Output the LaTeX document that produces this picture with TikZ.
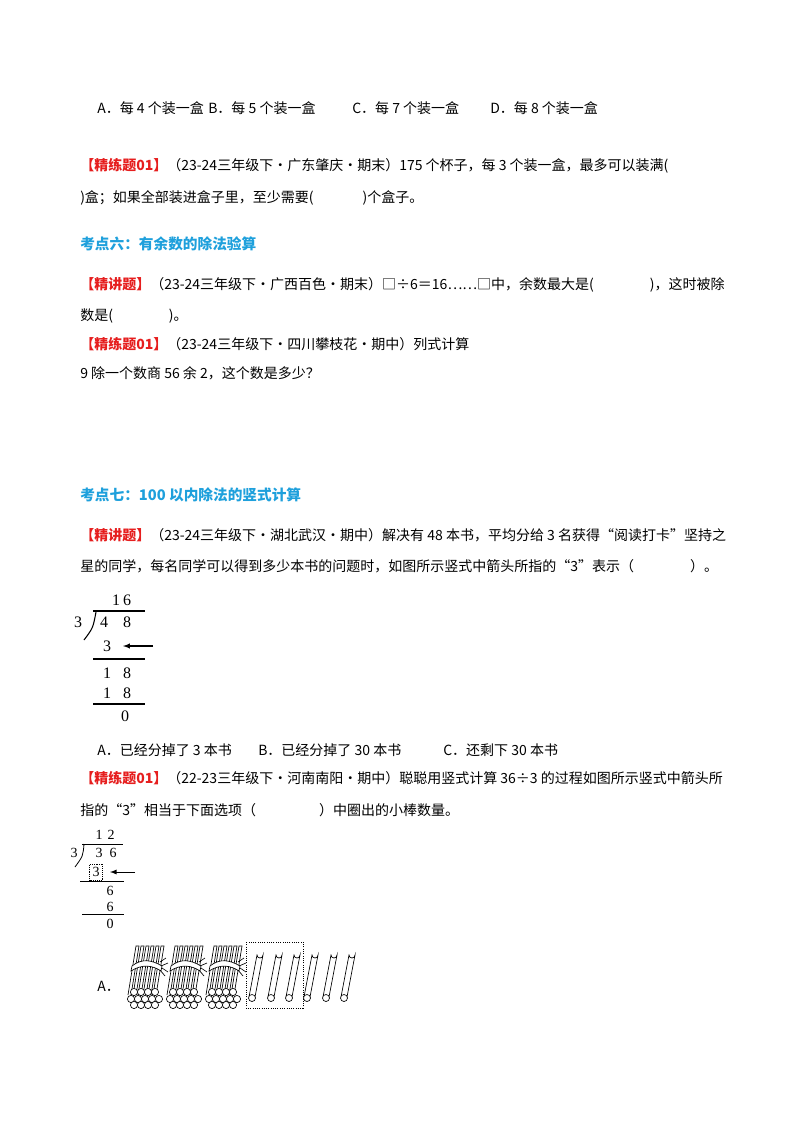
\documentclass[tikz,border=0pt]{standalone}
\usepackage{fontspec}
\setmainfont{Liberation Serif}
\newfontfamily\cjk{Noto Sans CJK SC}
\definecolor{hred}{RGB}{230,30,30}
\definecolor{hblue}{RGB}{30,160,220}
\begin{document}
\begin{tikzpicture}[x=0.75pt,y=-0.75pt,
  txt/.style={anchor=west,inner sep=0,font=\cjk\fontsize{10.5}{12}\selectfont},
  hd/.style={anchor=west,inner sep=0,text=hblue,font=\cjk\bfseries\fontsize{11}{12}\selectfont},
  dg/.style={inner sep=0,font=\fontsize{12}{13}\selectfont},
  dgs/.style={inner sep=0,font=\fontsize{10.5}{12}\selectfont},
  rl/.style={line width=0.8pt},
  stick/.style={line width=0.5pt}]
\useasboundingbox (0,0) rectangle (800,1132);
\fill[white] (0,0) rectangle (800,1132);
\newcommand{\R}[1]{\textcolor{hred}{\bfseries #1}}
\node[txt] (a1) at (97,108) {A．每 4 个装一盒};
\node[txt] (a2) at (208,108) {B．每 5 个装一盒};
\node[txt] (a3) at (352,108) {C．每 7 个装一盒};
\node[txt] (a4) at (490,108) {D．每 8 个装一盒};
\node[txt] (l1) at (80,166) {\R{【精练题01】}（23-24三年级下•广东肇庆•期末）175 个杯子，每 3 个装一盒，最多可以装满(};
\node[txt] (l2) at (80,198) {)盒；如果全部装进盒子里，至少需要(\hspace{3.5em})个盒子。};
\node[hd] (h6) at (80,244) {考点六：有余数的除法验算};
\node[txt] (l3) at (80,285) {\R{【精讲题】}（23-24三年级下•广西百色•期末）□÷6＝16……□中，余数最大是(\hspace{4em})，这时被除};
\node[txt] (l4) at (80,316) {数是(\hspace{4em})。};
\node[txt] (l5) at (80,344) {\R{【精练题01】}（23-24三年级下•四川攀枝花•期中）列式计算};
\node[txt] (l6) at (80,373) {9 除一个数商 56 余 2，这个数是多少？};
\node[hd] (h7) at (80,495) {考点七：100 以内除法的竖式计算};
\node[txt] (l7) at (80,535) {\R{【精讲题】}（23-24三年级下•湖北武汉•期中）解决有 48 本书，平均分给 3 名获得“阅读打卡”坚持之};
\node[txt] (l8) at (80,566) {星的同学，每名同学可以得到多少本书的问题时，如图所示竖式中箭头所指的“3”表示（\hspace{4em}）。};
% division 1
\node[dg] (q1) at (116,600) {1};
\node[dg] (q2) at (127,600) {6};
\draw[rl] (93,611) -- (145,611);
\node[dg] (d1) at (78,622) {3};
\node[dg] (n1) at (104,622) {4};
\node[dg] (n2) at (127,622) {8};
\draw[rl] (96,612) .. controls (93,628) .. (84,640);
\node[dg] (s1) at (107,646) {3};
\coordinate (ar1) at (153,646);
\coordinate (ah1) at (123,646);
\draw[rl,-latex] (ar1) -- (ah1);
\draw[rl] (93,659) -- (145,659);
\node[dg] (r1) at (107,673) {1};
\node[dg] (r2) at (127,673) {8};
\node[dg] (r3) at (107,693) {1};
\node[dg] (r4) at (127,693) {8};
\draw[rl] (93,704) -- (145,704);
\node[dg] (r5) at (125,716) {0};
\node[txt] (b1) at (97,750) {A．已经分掉了 3 本书};
\node[txt] (b2) at (258,750) {B．已经分掉了 30 本书};
\node[txt] (b3) at (443,750) {C．还剩下 30 本书};
\node[txt] (l9) at (80,778) {\R{【精练题01】}（22-23三年级下•河南南阳•期中）聪聪用竖式计算 36÷3 的过程如图所示竖式中箭头所};
\node[txt] (l10) at (80,810) {指的“3”相当于下面选项（\hspace{4.5em}）中圈出的小棒数量。};
% division 2
\node[dgs] (p1) at (99,835) {1};
\node[dgs] (p2) at (111,835) {2};
\draw[line width=0.6pt] (82,844) -- (123,844);
\node[dgs] (e1) at (74,853) {3};
\node[dgs] (m1) at (99,853) {3};
\node[dgs] (m2) at (113,853) {6};
\draw[line width=0.6pt] (84,844) .. controls (83,856) .. (75,867);
\node[dgs,draw,densely dotted,minimum width=13pt*0.75,minimum height=16pt*0.75] (bx) at (96,872) {3};
\coordinate (ar2) at (135,872);
\coordinate (ah2) at (110,872);
\draw[line width=0.7pt,-latex] (ar2) -- (ah2);
\draw[line width=0.6pt] (80,881) -- (124,881);
\node[dgs] (u1) at (110,891) {6};
\node[dgs] (u2) at (110,907) {6};
\draw[line width=0.6pt] (82,914) -- (124,914);
\node[dgs] (u3) at (110,924) {0};
% bundles
\node[txt] (oa) at (97,986) {A．};
\foreach \bx in {124,163,202}{
  \foreach \i in {0,...,5}{
    \draw[stick] (\bx+4+\i*5,995) -- (\bx+12+\i*5,946) -- (\bx+15+\i*5,946) -- (\bx+7+\i*5,995);
  }
  \draw[stick,fill=white] (\bx+8,966) .. controls (\bx+18,958) and (\bx+28,960) .. (\bx+38,966)
     -- (\bx+37,971) .. controls (\bx+28,965) and (\bx+18,964) .. (\bx+7,971) -- cycle;
  \draw[stick] (\bx+36,962) -- (\bx+42,958) (\bx+37,966) -- (\bx+44,963) (\bx+36,970) -- (\bx+41,976) (\bx+38,968) -- (\bx+44,972);
  \foreach \cx/\cy in {10/992,17/992,24/992,31/992,7/999,14/999,21/999,28/999,35/999,10/1005,17/1005,24/1005,31/1005}{
    \draw[stick,fill=white] (\bx+\cx,\cy) circle (3.6);
  }
}
\draw[densely dotted,line width=0.7pt] (246,942) rectangle (303,1008);
\foreach \sx in {252,271,289,307,326,344}{
  \draw[stick] (\sx-3,997) -- (\sx+5,955) arc (180:0:3) -- (\sx+3,997);
  \draw[stick,fill=white] (\sx,998) circle (3.5);
}
\end{tikzpicture}
\end{document}
